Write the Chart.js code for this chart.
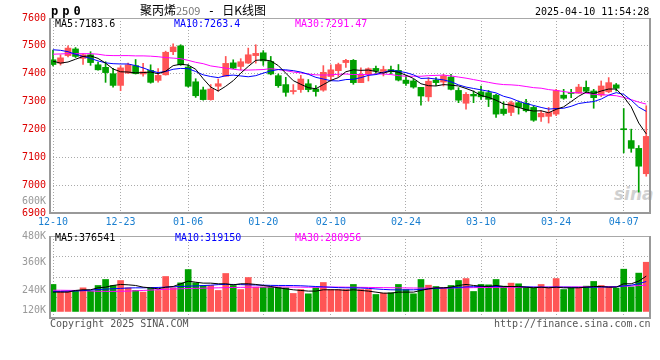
<!DOCTYPE html>
<html>
<head>
<meta charset="utf-8">
<script src="https://cdn.jsdelivr.net/npm/chart.js@4.4.1/dist/chart.umd.min.js"></script>
<style>
  body { margin: 0; background: #fff; }
  #page { position: relative; width: 660px; height: 360px; overflow: hidden; font-family: "DejaVu Sans Mono", monospace; }
  .t { position: absolute; white-space: nowrap; font-size: 10px; line-height: 10px; }
  canvas { position: absolute; left: 0; }
</style>
</head>
<body>
<div id="page">
  <div class="t" style="left:614px;top:186px;font:italic bold 17px 'DejaVu Sans';line-height:17px;color:#d0d0d0">sina</div>
  <canvas id="kline" width="660" height="232" style="top:0"></canvas>
  <canvas id="volume" width="660" height="134" style="top:226px"></canvas>

  <div class="t" style="left:51px;top:5px;font-weight:bold;font-size:12px;line-height:12px;letter-spacing:4px">pp0</div>
  <div class="t" style="left:140px;top:3px;font-family:'Noto Sans CJK SC';font-size:12px;line-height:14px">聚丙烯<span style="color:#777;font-size:11px">2509</span><span style="font-family:'DejaVu Sans Mono'">&nbsp;-&nbsp;</span>日K线图</div>
  <div class="t" style="left:535px;top:7px">2025-04-10 11:54:28</div>

  <div class="t" style="left:55px;top:19px;color:#000">MA5:7183.6</div>
  <div class="t" style="left:174px;top:19px;color:#0000ff">MA10:7263.4</div>
  <div class="t" style="left:295px;top:19px;color:#ff00ff">MA30:7291.47</div>

  <div class="t" style="left:22px;top:196px;color:#999">600K</div>

  <div class="t" style="left:55px;top:233px;color:#000">MA5:376541</div>
  <div class="t" style="left:175px;top:233px;color:#0000ff">MA10:319150</div>
  <div class="t" style="left:295px;top:233px;color:#ff00ff">MA30:280956</div>

  <div class="t" style="left:50px;top:319px;color:#555">Copyright 2025 SINA.COM</div>
  <div class="t" style="left:494px;top:319px;color:#555">http://finance.sina.com.cn</div>
</div>
<script>
// tick labels
const dates = ['12-10', '12-23', '01-06', '01-20', '02-10', '02-24', '03-10', '03-24', '04-07'];
const dateIdx = [0, 9, 18, 28, 37, 47, 57, 67, 76];
const volTickText = ['120K', '240K', '360K', '480K'];

// daily candles 2024-12-10 .. 2025-04-10
const open = [7450, 7438, 7465, 7489, 7455, 7468, 7432, 7423, 7400, 7358,
  7402, 7429, 7399, 7412, 7376, 7396, 7479, 7500, 7424, 7371,
  7342, 7307, 7355, 7391, 7439, 7426, 7438, 7465, 7475, 7444,
  7393, 7361, 7336, 7343, 7364, 7345, 7341, 7390, 7411, 7440,
  7448, 7368, 7398, 7419, 7408, 7415, 7412, 7377, 7374, 7351,
  7317, 7377, 7370, 7388, 7340, 7294, 7326, 7335, 7332, 7323,
  7273, 7261, 7296, 7294, 7279, 7245, 7247, 7255, 7323, 7332,
  7330, 7351, 7338, 7323, 7335, 7360, 7201, 7160, 7132, 7041];
const high = [7485, 7468, 7500, 7494, 7471, 7479, 7442, 7443, 7419, 7429,
  7438, 7451, 7437, 7432, 7418, 7481, 7507, 7504, 7432, 7382,
  7352, 7361, 7381, 7462, 7450, 7454, 7492, 7504, 7483, 7462,
  7399, 7387, 7361, 7394, 7379, 7357, 7429, 7432, 7438, 7452,
  7451, 7421, 7421, 7427, 7427, 7427, 7433, 7392, 7380, 7351,
  7386, 7386, 7398, 7398, 7350, 7332, 7338, 7356, 7340, 7326,
  7299, 7302, 7302, 7308, 7285, 7267, 7279, 7344, 7344, 7344,
  7362, 7374, 7344, 7374, 7386, 7365, 7275, 7201, 7142, 7285];
const low = [7428, 7431, 7460, 7458, 7433, 7430, 7413, 7369, 7352, 7339,
  7401, 7399, 7391, 7366, 7370, 7395, 7468, 7430, 7352, 7315,
  7305, 7305, 7337, 7391, 7418, 7414, 7437, 7438, 7430, 7396,
  7351, 7319, 7327, 7333, 7335, 7319, 7337, 7379, 7390, 7423,
  7362, 7368, 7374, 7398, 7392, 7400, 7374, 7358, 7348, 7287,
  7302, 7358, 7356, 7342, 7296, 7273, 7296, 7308, 7282, 7243,
  7251, 7249, 7255, 7263, 7229, 7229, 7223, 7249, 7308, 7314,
  7330, 7332, 7276, 7318, 7332, 7338, 7116, 7118, 6975, 7032];
const close = [7433, 7457, 7492, 7462, 7468, 7440, 7414, 7404, 7358, 7421,
  7432, 7400, 7407, 7369, 7394, 7477, 7496, 7432, 7355, 7321,
  7307, 7345, 7364, 7437, 7420, 7443, 7468, 7473, 7446, 7399,
  7357, 7333, 7338, 7381, 7343, 7336, 7405, 7414, 7433, 7448,
  7368, 7398, 7418, 7410, 7415, 7407, 7377, 7365, 7352, 7320,
  7373, 7368, 7392, 7344, 7305, 7326, 7320, 7317, 7308, 7255,
  7257, 7296, 7279, 7267, 7233, 7258, 7261, 7340, 7312, 7329,
  7352, 7337, 7314, 7356, 7368, 7348, 7199, 7132, 7068, 7175];

// moving-average lines as drawn
const ma5 = [7445, 7438, 7442, 7452, 7462, 7464, 7455, 7438, 7417, 7407,
  7406, 7403, 7404, 7406, 7400, 7409, 7429, 7434, 7431, 7416,
  7382, 7352, 7338, 7355, 7375, 7402, 7426, 7448, 7450, 7446,
  7429, 7402, 7375, 7362, 7350, 7346, 7361, 7376, 7386, 7407,
  7414, 7412, 7413, 7408, 7402, 7410, 7405, 7395, 7383, 7364,
  7357, 7356, 7361, 7359, 7356, 7347, 7337, 7322, 7315, 7305,
  7291, 7287, 7279, 7271, 7266, 7267, 7260, 7272, 7281, 7300,
  7319, 7334, 7329, 7338, 7345, 7345, 7317, 7281, 7223, 7184];
const ma10 = [7486, 7484, 7479, 7470, 7462, 7455, 7446, 7439, 7436, 7435,
  7435, 7429, 7421, 7411, 7404, 7408, 7416, 7419, 7418, 7408,
  7396, 7390, 7386, 7393, 7395, 7392, 7389, 7393, 7402, 7410,
  7415, 7414, 7411, 7406, 7398, 7387, 7381, 7375, 7374, 7379,
  7380, 7386, 7394, 7397, 7405, 7412, 7409, 7404, 7396, 7383,
  7384, 7381, 7378, 7371, 7360, 7352, 7347, 7342, 7337, 7331,
  7319, 7312, 7301, 7293, 7286, 7279, 7273, 7275, 7276, 7283,
  7293, 7297, 7300, 7309, 7323, 7332, 7326, 7305, 7280, 7265];
const ma30 = [7470, 7471, 7472, 7472, 7472, 7472, 7470, 7466, 7465, 7465,
  7465, 7464, 7464, 7463, 7461, 7458, 7456, 7454, 7448, 7441,
  7436, 7428, 7424, 7420, 7416, 7413, 7413, 7414, 7415, 7418,
  7415, 7411, 7406, 7403, 7399, 7396, 7395, 7396, 7398, 7399,
  7397, 7397, 7397, 7399, 7399, 7397, 7393, 7391, 7391, 7391,
  7393, 7394, 7395, 7392, 7388, 7384, 7379, 7374, 7369, 7364,
  7361, 7360, 7358, 7354, 7350, 7348, 7343, 7340, 7336, 7332,
  7332, 7330, 7326, 7325, 7323, 7321, 7315, 7307, 7298, 7291];

// volume
const vol = [288000, 213000, 213000, 224000, 252000, 217000, 277000, 341000, 277000, 330000,
  252000, 224000, 206000, 252000, 224000, 373000, 252000, 305000, 447000, 305000,
  277000, 277000, 224000, 405000, 277000, 234000, 362000, 259000, 259000, 259000,
  259000, 252000, 192000, 234000, 188000, 252000, 309000, 234000, 234000, 234000,
  288000, 234000, 234000, 181000, 195000, 199000, 288000, 234000, 188000, 341000,
  280000, 266000, 252000, 277000, 330000, 351000, 213000, 288000, 284000, 341000,
  270000, 302000, 295000, 259000, 252000, 288000, 252000, 351000, 234000, 252000,
  252000, 270000, 320000, 277000, 266000, 249000, 451000, 262000, 409000, 525000];
const volMa5 = [206000, 206000, 206000, 224000, 231000, 231000, 252000, 259000, 277000, 288000,
  284000, 277000, 259000, 252000, 241000, 259000, 266000, 295000, 323000, 312000,
  302000, 302000, 295000, 295000, 284000, 295000, 295000, 288000, 277000, 266000,
  252000, 241000, 231000, 224000, 217000, 217000, 231000, 231000, 231000, 224000,
  231000, 224000, 217000, 206000, 195000, 195000, 206000, 206000, 206000, 224000,
  241000, 252000, 252000, 259000, 277000, 288000, 277000, 270000, 266000, 277000,
  266000, 266000, 266000, 259000, 252000, 259000, 252000, 259000, 252000, 252000,
  252000, 259000, 266000, 266000, 259000, 259000, 295000, 295000, 323000, 376541];
const volMa10 = [213000, 214000, 216000, 218000, 222000, 228000, 234000, 238000, 242000, 246000,
  250000, 252000, 252000, 254000, 256000, 259000, 263000, 266000, 270000, 272000,
  276000, 280000, 286000, 288000, 288000, 286000, 284000, 282000, 280000, 278000,
  277000, 277000, 276000, 274000, 270000, 266000, 262000, 258000, 254000, 252000,
  252000, 250000, 246000, 240000, 235000, 231000, 230000, 230000, 231000, 234000,
  240000, 246000, 250000, 252000, 256000, 262000, 264000, 266000, 266000, 266000,
  266000, 266000, 264000, 262000, 260000, 259000, 259000, 260000, 259000, 258000,
  257000, 257000, 259000, 261000, 260000, 262000, 272000, 280000, 296000, 319150];
const volMa30 = [226000, 226000, 225000, 224000, 222000, 218000, 215000, 214000, 214000, 215000,
  217000, 220000, 224000, 228000, 232000, 236000, 240000, 242000, 244000, 246000,
  248000, 250000, 252000, 254000, 256000, 257000, 258000, 259000, 260000, 260000,
  261000, 261000, 260000, 259000, 258000, 258000, 259000, 260000, 260000, 259000,
  258000, 257000, 256000, 255000, 254000, 253000, 252000, 251000, 250000, 249000,
  249000, 249000, 250000, 251000, 252000, 253000, 254000, 255000, 256000, 257000,
  258000, 258000, 258000, 258000, 259000, 259000, 260000, 260000, 261000, 261000,
  262000, 262000, 263000, 264000, 265000, 266000, 270000, 272000, 276000, 280956];

const RED = '#ff5555';
const GREEN = '#00a000';
const GRID = '#aaaaaa';

Chart.defaults.font.family = '"DejaVu Sans Mono", monospace';
Chart.defaults.font.size = 10;

const candleColor = close.map((c, i) => c >= open[i] ? RED : GREEN);
const pts = arr => arr.map((v, i) => ({ x: i, y: v }));

// grey box round each plot area
const frame = {
  id: 'frame',
  afterDraw(chart) {
    const { ctx, chartArea: a } = chart;
    ctx.save();
    ctx.strokeStyle = '#a8a8a8';
    ctx.lineWidth = 1;
    ctx.strokeRect(a.left + 0.5, a.top + 0.5, a.right - a.left - 1, a.bottom - a.top - 1);
    ctx.strokeStyle = '#999';
    ctx.lineWidth = 2;
    ctx.beginPath();
    ctx.moveTo(a.left, a.top);
    ctx.lineTo(a.left, a.bottom);
    ctx.lineTo(a.right, a.bottom);
    ctx.lineTo(a.right, a.top);
    ctx.stroke();
    ctx.restore();
  }
};

function xAxis(showLabels, h) {
  return {
    type: 'linear', min: -0.4, max: 79.5, offset: false,
    afterBuildTicks: s => { s.ticks = dateIdx.map(v => ({ value: v })); },
    ticks: {
      display: showLabels, autoSkip: false, maxRotation: 0, padding: 3, color: '#1a7fd0',
      callback: v => dates[dateIdx.indexOf(v)]
    },
    grid: { color: GRID, drawTicks: false, offset: false },
    border: { display: false, dash: [1, 2] },
    afterFit: s => { s.height = h; }
  };
}

const line = (data, color, axis) => ({
  type: 'line', data: pts(data), borderColor: color, borderWidth: 1,
  pointRadius: 0, tension: 0, yAxisID: axis
});

new Chart(document.getElementById('kline'), {
  type: 'bar',
  data: {
    datasets: [
      line(ma5, '#000000', 'y'),
      line(ma10, '#0000ff', 'y'),
      line(ma30, '#ff00ff', 'y'),
      {
        data: close.map((c, i) => ({ x: i, y: [open[i], c] })),
        backgroundColor: candleColor, barThickness: 6, grouped: false, minBarLength: 1
      },
      {
        data: close.map((c, i) => ({ x: i, y: [low[i], high[i]] })),
        backgroundColor: candleColor, barThickness: 1, grouped: false
      }
    ]
  },
  options: {
    responsive: false, animation: false, events: [],
    layout: { padding: { top: 18, right: 10, left: 0, bottom: 0 } },
    plugins: { legend: { display: false }, tooltip: { enabled: false } },
    scales: {
      x: xAxis(true, 19),
      y: {
        min: 6900, max: 7600,
        ticks: { stepSize: 100, color: '#dd0000', padding: 4, callback: v => String(v) },
        grid: { color: GRID, drawTicks: false },
        border: { display: false, dash: [1, 2] },
        afterFit: s => { s.width = 50; }
      }
    }
  },
  plugins: [frame]
});

new Chart(document.getElementById('volume'), {
  type: 'bar',
  data: {
    datasets: [
      line(volMa5, '#000000', 'y'),
      line(volMa10, '#0000ff', 'y'),
      line(volMa30, '#ff00ff', 'y'),
      {
        data: pts(vol), backgroundColor: candleColor, barThickness: 6, grouped: false, yAxisID: 'y'
      }
    ]
  },
  options: {
    responsive: false, animation: false, events: [],
    layout: { padding: { top: 8, right: 10, left: 0, bottom: 0 } },
    plugins: { legend: { display: false }, tooltip: { enabled: false } },
    scales: {
      x: xAxis(false, 42),
      y: {
        min: -70000, max: 805000,
        ticks: { display: false, stepSize: 218750 },
        grid: { color: GRID, drawTicks: false },
        border: { display: false, dash: [1, 2] },
        afterFit: s => { s.width = 0; }
      },
      yl: {
        position: 'left', min: -70000, max: 805000,
        afterBuildTicks: s => { s.ticks = [10500, 220000, 525000, 805000].map(v => ({ value: v })); },
        ticks: { color: '#999', padding: 4, callback: (v, i) => volTickText[i] },
        grid: { display: false, drawTicks: false },
        border: { display: false },
        afterFit: s => { s.width = 50; }
      }
    }
  },
  plugins: [frame]
});
</script>
</body>
</html>
